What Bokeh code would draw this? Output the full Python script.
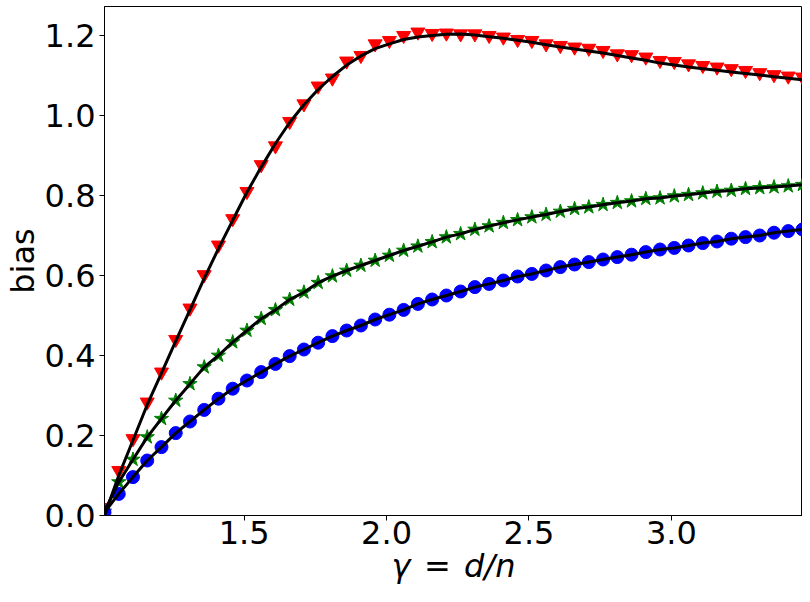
from bokeh.plotting import figure
from bokeh.models import Range1d, FixedTicker, PrintfTickFormatter
from bokeh.embed import file_html
from bokeh.resources import INLINE

gamma = [1.01, 1.06, 1.11, 1.16, 1.21, 1.26, 1.31, 1.36, 1.41, 1.46,
         1.51, 1.56, 1.61, 1.66, 1.71, 1.76, 1.81, 1.86, 1.91, 1.96,
         2.01, 2.06, 2.11, 2.16, 2.21, 2.26, 2.31, 2.36, 2.41, 2.46,
         2.51, 2.56, 2.61, 2.66, 2.71, 2.76, 2.81, 2.86, 2.91, 2.96,
         3.01, 3.06, 3.11, 3.16, 3.21, 3.26, 3.31, 3.36, 3.41, 3.46]

# empirical points (markers)
bias_red = [0.02, 0.1125, 0.192, 0.2835, 0.3585, 0.44, 0.5185, 0.602, 0.676, 0.742,
            0.81, 0.877, 0.924, 0.985, 1.029, 1.0735, 1.0935, 1.136, 1.15, 1.179,
            1.1875, 1.20, 1.2085, 1.205, 1.206, 1.204, 1.204, 1.20, 1.196, 1.19,
            1.1875, 1.179, 1.175, 1.171, 1.168, 1.1625, 1.154, 1.152, 1.146, 1.1375,
            1.135, 1.129, 1.125, 1.121, 1.117, 1.1125, 1.107, 1.102, 1.0985, 1.096]

bias_green = [0.01, 0.0835, 0.14, 0.196, 0.242, 0.2875, 0.329, 0.371, 0.40, 0.4335,
              0.4625, 0.492, 0.514, 0.54, 0.558, 0.582, 0.5985, 0.6125, 0.625, 0.6375,
              0.65, 0.6625, 0.673, 0.684, 0.696, 0.704, 0.715, 0.7235, 0.732, 0.739,
              0.746, 0.7525, 0.76, 0.767, 0.771, 0.777, 0.782, 0.786, 0.792, 0.7935,
              0.7985, 0.802, 0.806, 0.81, 0.8125, 0.817, 0.819, 0.821, 0.8235, 0.827]

bias_blue = [0.008, 0.054, 0.096, 0.1375, 0.171, 0.206, 0.235, 0.264, 0.292, 0.317,
             0.3375, 0.3585, 0.379, 0.3985, 0.415, 0.432, 0.4485, 0.4625, 0.475, 0.49,
             0.502, 0.514, 0.529, 0.54, 0.55, 0.56, 0.571, 0.579, 0.5875, 0.5975,
             0.604, 0.6125, 0.621, 0.6275, 0.6335, 0.64, 0.646, 0.652, 0.6585, 0.665,
             0.669, 0.675, 0.681, 0.685, 0.692, 0.696, 0.70, 0.707, 0.711, 0.715]

# theoretical curve for the red series (black line)
theory_red = [0.0, 0.10, 0.188, 0.277, 0.356, 0.436, 0.514, 0.593, 0.667, 0.738,
              0.808, 0.871, 0.93, 0.9825, 1.027, 1.065, 1.0975, 1.126, 1.149, 1.167,
              1.179, 1.19, 1.196, 1.20, 1.203, 1.204, 1.201, 1.197, 1.193, 1.188,
              1.183, 1.177, 1.171, 1.166, 1.161, 1.156, 1.15, 1.144, 1.138, 1.131,
              1.126, 1.121, 1.117, 1.113, 1.109, 1.105, 1.101, 1.097, 1.093, 1.089]

x_ticks = [1.5, 2.0, 2.5, 3.0]
y_ticks = [0.0, 0.2, 0.4, 0.6, 0.8, 1.0, 1.2]

FONT = "DejaVu Sans"

p = figure(frame_width=698, frame_height=509,
           x_range=Range1d(1.01, 3.46), y_range=Range1d(0, 1.2725),
           output_backend="svg", toolbar_location=None,
           min_border_left=96, min_border_right=0, min_border_top=6,
           min_border_bottom=70)

p.grid.visible = False
p.background_fill_color = "white"
p.border_fill_color = "white"
p.outline_line_color = "black"
p.outline_line_width = 1

p.scatter(gamma, bias_red, marker="inverted_triangle", size=14,
          fill_color="#ff0000", line_color="#ff0000")
p.scatter(gamma, bias_green, marker="star", size=15,
          fill_color="#008000", line_color="#008000")
p.scatter(gamma, bias_blue, marker="circle", size=13,
          fill_color="#0000ff", line_color="#0000ff")

for ys in (theory_red, bias_green, bias_blue):
    p.line(gamma, ys, line_color="black", line_width=3)

for ax in (p.xaxis, p.yaxis):
    ax.major_label_text_font = FONT
    ax.major_label_text_font_size = "32px"
    ax.major_label_text_color = "black"
    ax.axis_label_text_font = FONT
    ax.axis_label_text_font_size = "32px"
    ax.axis_label_text_font_style = "normal"
    ax.axis_label_text_color = "black"
    ax.axis_line_color = "black"
    ax.major_tick_line_color = "black"
    ax.major_tick_out = 5
    ax.major_tick_in = 0
    ax.minor_tick_line_color = None
    ax.formatter = PrintfTickFormatter(format="%.1f")

p.xaxis.ticker = FixedTicker(ticks=x_ticks)
p.yaxis.ticker = FixedTicker(ticks=y_ticks)
p.xaxis.axis_label = "γ \u200a= \u200ad/n"
p.xaxis.axis_label_text_font_style = "italic"
p.yaxis.axis_label = "bias"
p.xaxis.major_label_standoff = 0
p.yaxis.major_label_standoff = 4
p.xaxis.axis_label_standoff = 0
p.yaxis.axis_label_standoff = 0

open("out.html", "w").write(file_html(p, INLINE))
